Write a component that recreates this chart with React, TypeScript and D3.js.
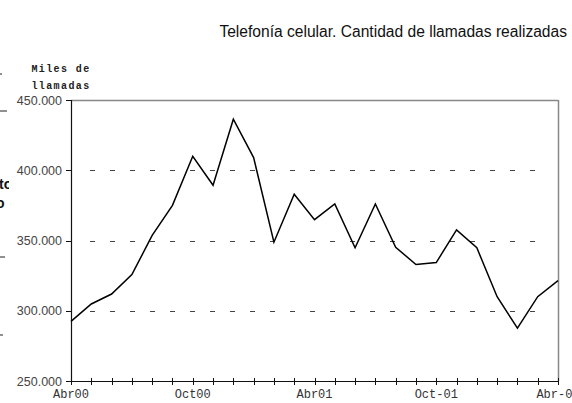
import React from "react";
import * as d3 from "d3";

const months: string[] = [
  "Abr00","May00","Jun00","Jul00","Ago00","Sep00","Oct00","Nov00","Dic00","Ene01","Feb01","Mar01",
  "Abr01","May01","Jun01","Jul01","Ago01","Sep01","Oct01","Nov01","Dic01","Ene02","Feb02","Mar02","Abr02",
];
const llamadas: number[] = [
  292.4, 304.8, 311.9, 325.7, 353.6, 375.0, 410.0, 389.3, 436.3, 409.0, 348.8, 382.9, 364.8,
  376.0, 344.8, 376.0, 345.2, 332.9, 334.3, 357.6, 344.8, 310.0, 287.6, 310.0, 321.4,
];
const xTickLabels: { idx: number; label: string }[] = [
  { idx: 0, label: "Abr00" },
  { idx: 6, label: "Oct00" },
  { idx: 12, label: "Abr01" },
  { idx: 18, label: "Oct-01" },
  { idx: 24, label: "Abr-02" },
];
const yTicks: number[] = [250, 300, 350, 400, 450];
const title = "Telefonía celular. Cantidad de llamadas realizadas";
const yTitle: string[] = ["Miles de", "llamadas"];

const W = 572, H = 403;
const L = 71, R = 558, T = 100, B = 381;

export default function App() {
  const x = d3.scaleLinear().domain([0, months.length - 1]).range([L, R]);
  const y = d3.scaleLinear().domain([250, 450]).range([B, T]);
  const line = d3.line<number>().x((_, i) => x(i)).y((d) => y(d));
  const fmt = (v: number) => `${v}.000`;
  return (
    <svg width={W} height={H} style={{ position: "absolute", left: 0, top: 0, background: "#fff" }}>
      <defs>
        <clipPath id="leftclip"><rect x={0} y={0} width={9} height={H} /></clipPath>
      </defs>
      <rect x={0} y={0} width={W} height={H} fill="#fff" />
      <text x={567} y={37} textAnchor="end" fontFamily="Liberation Sans, Arial, sans-serif" fontSize={15.6} fill="#111">
        {title}
      </text>
      {/* cropped remnants at left edge */}
      <g stroke="#222" strokeWidth={1}>
        <line x1={0} x2={2} y1={74} y2={74} />
        <line x1={0} x2={7} y1={111} y2={111} />
        <line x1={0} x2={5} y1={257} y2={257} />
        <line x1={0} x2={3} y1={335} y2={335} />
      </g>
      <g clipPath="url(#leftclip)" fontFamily="Liberation Sans, Arial, sans-serif" fontWeight="bold" fontSize={14} fill="#111">
        <text x={-1} y={189}>to</text>
        <text x={-4} y={208}>o</text>
      </g>
      {/* y axis title */}
      <g fontFamily="Liberation Mono, Courier New, monospace" fontWeight="bold" fontSize={10} fill="#222" textAnchor="middle">
        {yTitle.map((t, i) => (
          <text key={i} x={61} y={72 + i * 17} letterSpacing={1.4}>{t}</text>
        ))}
      </g>
      {/* gridlines */}
      <g stroke="#444" strokeWidth={1} strokeDasharray="5 15">
        {yTicks.filter((v) => v !== 250 && v !== 450).map((v) => (
          <line key={v} x1={90} x2={545} y1={Math.round(y(v)) + 0.5} y2={Math.round(y(v)) + 0.5} />
        ))}
      </g>
      {/* top and right border */}
      <line x1={L} x2={R} y1={T + 0.5} y2={T + 0.5} stroke="#888" strokeWidth={1.5} />
      <line x1={R + 0.5} x2={R + 0.5} y1={T} y2={B} stroke="#888" strokeWidth={1.5} />
      {/* y axis */}
      <line x1={L + 0.5} x2={L + 0.5} y1={T} y2={B + 0.5} stroke="#111" strokeWidth={1.2} />
      {yTicks.map((v) => (
        <g key={v}>
          <line x1={L - 5} x2={L} y1={Math.round(y(v)) + 0.5} y2={Math.round(y(v)) + 0.5} stroke="#111" />
          <text x={62} y={y(v) + 4.5} textAnchor="end" fontFamily="Liberation Sans, Arial, sans-serif" fontSize={12.5} fill="#444">
            {fmt(v)}
          </text>
        </g>
      ))}
      {/* x axis */}
      <line x1={L} x2={R + 1} y1={B + 0.5} y2={B + 0.5} stroke="#111" strokeWidth={1.2} />
      {months.map((m, i) => (
        <line key={m} x1={Math.round(x(i)) + 0.5} x2={Math.round(x(i)) + 0.5} y1={B - 3} y2={B + 4} stroke="#111" />
      ))}
      <g fontFamily="Liberation Mono, Courier New, monospace" fontSize={12} fill="#333" textAnchor="middle">
        {xTickLabels.map((t) => (
          <text key={t.label} x={x(t.idx)} y={398}>{t.label}</text>
        ))}
      </g>
      {/* data line */}
      <path d={line(llamadas) ?? ""} fill="none" stroke="#000" strokeWidth={1.5} strokeLinejoin="miter" />
    </svg>
  );
}
